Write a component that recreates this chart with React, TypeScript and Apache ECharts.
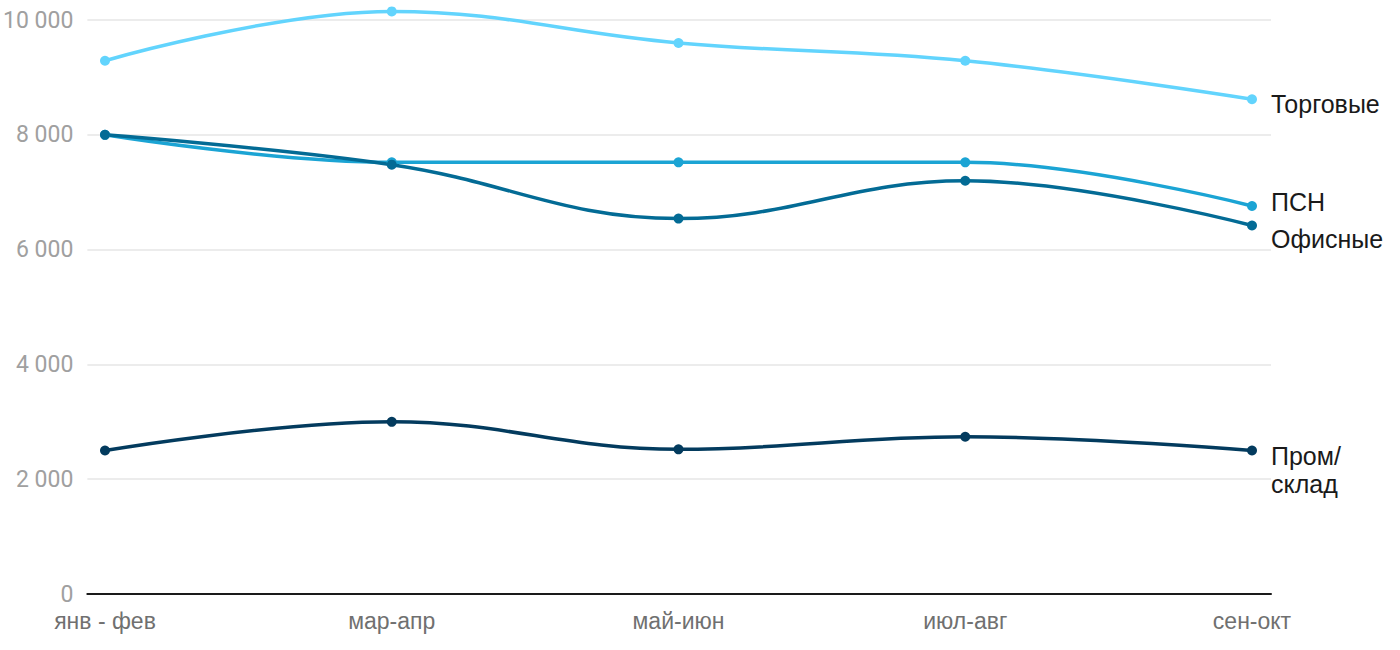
import React, { useEffect, useRef } from "react";
import * as echarts from "echarts";

const categories = ["янв - фев", "мар-апр", "май-июн", "июл-авг", "сен-окт"];
const torgovye = [9290, 10150, 9600, 9290, 8620];
const psn = [8000, 7520, 7520, 7520, 6760];
const ofisnye = [8000, 7480, 6540, 7200, 6420];
const promSklad = [2500, 3000, 2520, 2740, 2500];

const seriesNames = ["Торговые", "ПСН", "Офисные", "Пром/склад"];
const seriesLabels = ["Торговые", "ПСН", "Офисные", "Пром/\nсклад"];
const seriesData = [torgovye, psn, ofisnye, promSklad];
const seriesColors = ["#62d4fd", "#1ba4d4", "#036b95", "#033b5e"];
const labelOffsets = [5, -4, 14, 19];

const fmt = (v: number) => String(v).replace(/\B(?=(\d{3})+(?!\d))/g, " ");

export default function App() {
  const ref = useRef<HTMLDivElement>(null);
  useEffect(() => {
    document.body.style.margin = "0";
    const chart = echarts.init(ref.current!, null, { renderer: "svg" });
    chart.setOption({
      animation: false,
      grid: [
        { left: 86, right: 129, top: 20, bottom: 56 },
        { left: 105, right: 148, top: 20, bottom: 56 },
      ],
      xAxis: [
        {
          gridIndex: 0,
          type: "value",
          min: 0,
          max: 1,
          axisLine: { show: true, lineStyle: { color: "#1a1a1a", width: 2 } },
          axisTick: { show: false },
          axisLabel: { show: false },
          splitLine: { show: false },
        },
        {
          gridIndex: 1,
          type: "category",
          boundaryGap: false,
          data: categories,
          axisLine: { show: false },
          axisTick: { show: false },
          axisLabel: {
            color: "#707070",
            fontSize: 23,
            fontFamily: "Liberation Sans",
            margin: 15,
          },
        },
      ],
      yAxis: [
        {
          gridIndex: 0,
          type: "value",
          min: 0,
          max: 10000,
          interval: 2000,
          axisLine: { show: false },
          axisTick: { show: false },
          axisLabel: {
            color: "#a0a0a0",
            fontSize: 23,
            fontFamily: "Roboto",
            margin: 14,
            formatter: (v: number) => fmt(v),
          },
          splitLine: { lineStyle: { color: "#e6e6e6", width: 1.5 } },
        },
        {
          gridIndex: 1,
          type: "value",
          min: 0,
          max: 10000,
          show: false,
        },
      ],
      series: seriesNames.map((name, i) => ({
        name,
        type: "line",
        xAxisIndex: 1,
        yAxisIndex: 1,
        data: seriesData[i],
        smooth: 0.4,
        clip: false,
        symbol: "circle",
        symbolSize: 10,
        color: seriesColors[i],
        lineStyle: { width: 3.5, color: seriesColors[i] },
        itemStyle: { color: seriesColors[i] },
        endLabel: {
          show: true,
          formatter: () => seriesLabels[i],
          color: "#1a1a1a",
          fontSize: 25,
          fontFamily: "Liberation Sans",
          lineHeight: 28,
          distance: 19,
          offset: [0, labelOffsets[i]],
        },
      })),
    });
    return () => chart.dispose();
  }, []);
  return <div ref={ref} style={{ width: 1400, height: 650 }} />;
}
